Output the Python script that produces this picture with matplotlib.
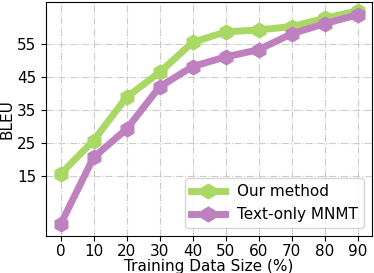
import numpy as np
import matplotlib.pyplot as plt

# data
sizes = [0, 10, 20, 30, 40, 50, 60, 70, 80, 90]
ours = [15.5, 25.6, 38.8, 46.3, 55.4, 58.6, 59.2, 60.2, 62.7, 65.0]
text_only = [0.2, 20.5, 29.1, 41.9, 48.1, 51.0, 53.2, 58.0, 61.1, 63.8]

plt.figure(figsize=(3.74, 2.73), dpi=100)
ax = plt.gca()
ax.plot(sizes, ours, color='#aad865', linewidth=5, marker='h', markersize=10.5,
        label='Our method')
ax.plot(sizes, text_only, color='#bf80c0', linewidth=5, marker='h', markersize=10.5,
        label='Text-only MNMT')

ax.set_xlim(-4.4, 94.3)
ax.set_ylim(-3.2, 67.7)
ax.set_xticks(sizes)
ax.set_yticks([15, 25, 35, 45, 55])
ax.tick_params(labelsize=11)
ax.tick_params(axis='x', pad=2.5)
ax.grid(True, linestyle='-.', color='#cccccc', linewidth=0.8)
ax.set_axisbelow(True)
ax.set_xlabel('Training Data Size (%)', fontsize=11, labelpad=0)
ax.set_ylabel('BLEU', fontsize=11, labelpad=2)
ax.legend(loc='lower right', fontsize=11, handlelength=2.2)

plt.subplots_adjust(left=0.123, right=0.994, top=0.993, bottom=0.137)
plt.savefig('out.png', dpi=100)
